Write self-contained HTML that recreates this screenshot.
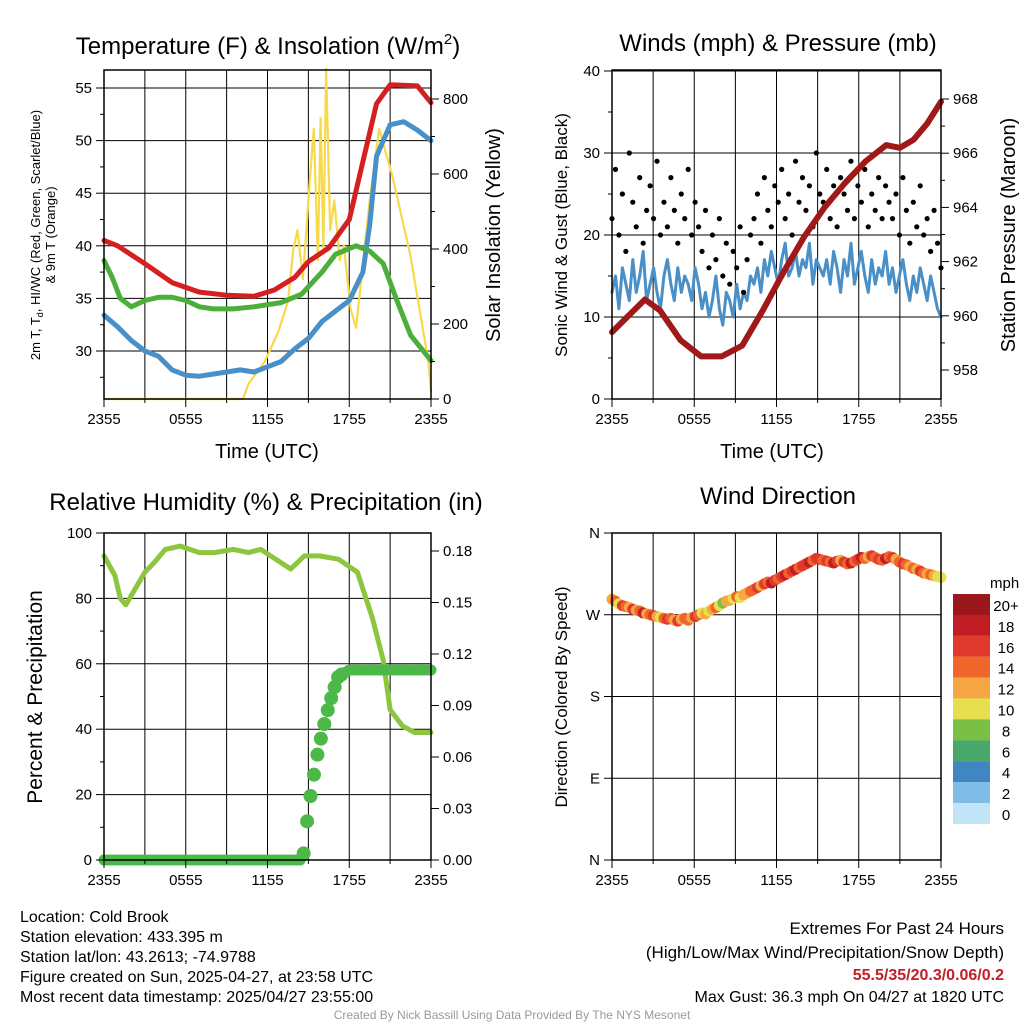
<!DOCTYPE html>
<html><head><meta charset="utf-8"><style>
body{margin:0;background:#fff}
svg{display:block;font-family:"Liberation Sans",Arial,sans-serif}
</style></head><body>
<svg id="c" width="1024" height="1024" viewBox="0 0 1024 1024">
<rect width="1024" height="1024" fill="#fff"/>
<g id="g"></g>
</svg>
<script>
// ---- Panel 1 data (hours since 2355 UTC) ----
const redT=[0,1,3,5,7,9,11,12.5,14,15,16.5,18,19,20,21,23,24];
const redV=[40.5,40.0,38.3,36.5,35.6,35.3,35.2,35.8,37.0,38.5,39.8,42.5,48.0,53.5,55.3,55.2,53.6];
const grnT=[0,0.6,1.2,2,3,4,5,6,7,8,9.5,11,13,14.5,16,17,18.5,19.5,20.5,21.5,22.5,24];
const grnV=[38.6,37.0,35.0,34.2,34.8,35.1,35.1,34.8,34.2,34.0,34.0,34.2,34.6,35.4,37.5,39.2,40.0,39.5,38.3,34.8,31.5,29.1];
const bluT=[0,1,2,3,4,5,6,7,8,9,10,11,12,13,14,15,16,17,18,19,19.5,20,21,22,23,24];
const bluV=[33.4,32.3,31.0,30.0,29.5,28.2,27.7,27.6,27.8,28.0,28.2,28.0,28.5,29.0,30.2,31.2,32.8,33.8,34.8,37.5,42.0,48.5,51.5,51.8,51.0,50.0];
const solT=[0,10.2,10.6,11.8,12.8,13.5,13.9,14.2,14.6,15.1,15.4,15.7,15.9,16.1,16.3,16.6,16.9,17.3,17.6,18.1,18.5,19.5,20.2,21.2,22.5,23.8,24];
const solV=[0,0,40,100,180,260,400,450,320,580,720,370,750,400,880,450,530,370,410,240,190,530,720,590,380,100,20];
// ---- Panel 2 data (15-min steps) ----
const windV=[13,15,11,16,14,12,17,13,15,18,12,14,16,13,11,15,17,14,12,16,13,15,14,12,16,
14,11,13,10,12,15,11,9,13,12,10,14,11,13,12,15,
14,16,13,17,15,18,16,14,17,19,15,16,18,15,17,16,19,14,17,16,
15,17,14,18,16,13,17,15,19,14,16,18,15,13,17,14,16,15,18,14,
16,13,15,17,14,12,15,13,16,14,12,15,13,11,10];
const gustV=[22,28,20,25,18,30,24,21,27,19,23,26,22,29,20,24,21,27,23,19,25,22,28,20,24,
21,18,23,16,20,17,22,15,19,14,18,16,21,13,17,20,
22,25,19,27,23,21,26,24,28,22,25,20,29,24,27,23,26,21,30,25,
24,28,22,26,21,27,25,23,29,22,26,24,28,21,25,23,27,22,26,24,
22,25,20,27,23,19,24,21,26,20,22,18,23,19,16];
const presT=[0,1,2.4,3.5,5,6.5,8,9.5,11,12.5,14,15.5,17,18.5,20,21,22,23,24];
const presV=[959.4,959.9,960.6,960.2,959.1,958.5,958.5,958.9,960.2,961.6,962.9,964.0,964.9,965.7,966.3,966.2,966.5,967.1,967.9];
// ---- Panel 3 data ----
const rhT=[0,0.8,1.2,1.6,2.3,3,3.7,4.5,5.6,7,8.1,9.5,10.6,11.5,12.6,13.7,14.7,15.8,17.2,18.6,19.7,20.5,21,21.9,22.8,24];
const rhV=[93,87,80,78,83,88,91,95,96,94,94,95,94,95,92,89,93,93,92,88,74,61,46,41,39,39];
const precT=[0,2,4,6,8,10,12,14.6,14.8,15.0,15.3,15.6,16.0,16.4,16.8,17.2,18,20,22,24];
const precV=[0,0,0,0,0,0,0,0,0.008,0.016,0.024,0.032,0.040,0.047,0.053,0.058,0.06,0.06,0.06,0.06];
// ---- Panel 4 data (15-min steps, degrees) ----
const dirV=[287,285,282,280,279,278,276,275,274,272,271,270,269,268,267,266,265,266,264,263,265,266,264,267,268,
270,272,271,274,276,278,280,283,285,286,288,290,289,292,294,296,
298,300,302,304,306,305,308,310,312,314,316,318,320,322,324,326,328,330,332,331,
330,329,328,327,329,330,328,326,327,329,331,333,332,334,335,333,331,330,332,334,
333,331,328,326,325,323,321,320,318,316,315,314,313,312,311];

const NS='http://www.w3.org/2000/svg';
const G=document.getElementById('g');
function el(tag,attrs,parent,text){const e=document.createElementNS(NS,tag);for(const k in attrs)e.setAttribute(k,attrs[k]);if(text!==undefined)e.textContent=text;(parent||G).appendChild(e);return e;}
function lin(d0,d1,r0,r1){return v=>r0+(v-d0)*(r1-r0)/(d1-d0);}
const stepT=i=>i*24/95;

function frame(name){
  const g=el('g',{});
  
  
  return g;
}
function grid(g,x0,x1,y0,y1,ys){
  for(let h=3;h<24;h+=3){const x=lin(0,24,x0,x1)(h);el('line',{x1:x,x2:x,y1:y0,y2:y1,stroke:'#000','stroke-width':1},g);}
  ys.forEach(y=>el('line',{x1:x0,x2:x1,y1:y,y2:y,stroke:'#000','stroke-width':1},g));
}
function border(g,x0,x1,y0,y1){el('rect',{x:x0,y:y0,width:x1-x0,height:y1-y0,fill:'none',stroke:'#000','stroke-width':1.5},g);}
function xticks(g,x0,x1,y1){
  const labs=['2355','0555','1155','1755','2355'];
  const sx=lin(0,24,x0,x1);
  for(let h=0;h<=24;h+=3){const x=sx(h);el('line',{x1:x,x2:x,y1:y1,y2:y1+(h%6==0?8:4),stroke:'#000'},g);}
  labs.forEach((l,i)=>{const t=el('text',{x:sx(i*6),y:y1+25,'text-anchor':'middle','font-size':15},g,l);
    });
}
function yticks(g,x,side,vals,sy,fmt,minor){
  const dir=side=='l'?-1:1;
  vals.forEach(v=>{const y=sy(v);el('line',{x1:x,x2:x+dir*8,y1:y,y2:y,stroke:'#000'},g);
    const t=el('text',{x:x+dir*12,y:y+5,'text-anchor':side=='l'?'end':'start','font-size':15},g,fmt(v));
    });
  (minor||[]).forEach(v=>{const y=sy(v);el('line',{x1:x,x2:x+dir*4,y1:y,y2:y,stroke:'#000'},g);});
}
function path(g,ts,vs,sx,sy,color,w,name){
  const d=ts.map((t,i)=>(i?'L':'M')+sx(t).toFixed(1)+','+sy(vs[i]).toFixed(1)).join('');
  const p=el('path',{d:d,fill:'none',stroke:color,'stroke-width':w,'stroke-linejoin':'round','stroke-linecap':'round'},g);
  return p;
}
function txt(g,x,y,s,size,name,extra){const t=el('text',Object.assign({x:x,y:y,'font-size':size},extra||{}),g,s);
  return t;}

// ===== Panel 1 =====
(function(){
  const x0=104,x1=431,y0=70,y1=399;
  const g=frame('temperature-panel');
  const sx=lin(0,24,x0,x1), sy=lin(30,55,351,88), sr=lin(0,800,399,99);
  grid(g,x0,x1,y0,y1,[30,35,40,45,50,55].map(sy));
  path(g,solT,solV,sx,sr,'#f7d94c',2.2,'solar-insolation-line');
  path(g,bluT,bluV,sx,sy,'#4a90c8',5,'wind-chill-line');
  path(g,grnT,grnV,sx,sy,'#4caf3c',5,'dewpoint-line');
  path(g,redT,redV,sx,sy,'#d42020',5,'temperature-line');
  border(g,x0,x1,y0,y1);
  xticks(g,x0,x1,y1);
  yticks(g,x0,'l',[30,35,40,45,50,55],sy,v=>v,[27.5,32.5,37.5,42.5,47.5,52.5]);
  yticks(g,x1,'r',[0,200,400,600,800],sr,v=>v,[100,300,500,700]);
  const t=txt(g,268,54,'Temperature (F) & Insolation (W/m',24,'chart-title-temperature',{'text-anchor':'middle'});
  el('tspan',{dy:-10,'font-size':15},t,'2');el('tspan',{dy:10},t,')');
  txt(g,267,458,'Time (UTC)',20,'x-axis-title',{'text-anchor':'middle'});
  const a=txt(g,0,0,'',13,'y-axis-title-left',{'text-anchor':'middle',transform:'translate(40,235) rotate(-90)'});
  el('tspan',{x:0,dy:0},a,'2m T, T');el('tspan',{'font-size':9,dy:3},a,'d');el('tspan',{dy:-3},a,', HI/WC (Red, Green, Scarlet/Blue)');
  el('tspan',{x:0,dy:15},a,'& 9m T (Orange)');
  txt(g,0,0,'Solar Insolation (Yellow)',20,'y-axis-title-right',{'text-anchor':'middle',transform:'translate(500,235) rotate(-90)'});
})();

// ===== Panel 2 =====
(function(){
  const x0=612,x1=941,y0=70,y1=399;
  const g=frame('winds-panel');
  const sx=lin(0,24,x0,x1), sy=lin(0,40,399,71), sp=lin(958,968,370,99);
  grid(g,x0,x1,y0,y1,[10,20,30,40].map(sy));
  path(g,windV.map((v,i)=>stepT(i)),windV,sx,sy,'#4a90c8',3,'sonic-wind-line');
  gustV.forEach((v,i)=>{const c=el('circle',{cx:sx(stepT(i)),cy:sy(v),r:2.6,fill:'#000'},g);
    });
  path(g,presT,presV,sx,sp,'#a01818',6,'pressure-line');
  border(g,x0,x1,y0,y1);
  xticks(g,x0,x1,y1);
  yticks(g,x0,'l',[0,10,20,30,40],sy,v=>v,[5,15,25,35]);
  yticks(g,x1,'r',[958,960,962,964,966,968],sp,v=>v,[959,961,963,965,967]);
  txt(g,778,51,'Winds (mph) & Pressure (mb)',24,'chart-title-winds',{'text-anchor':'middle'});
  txt(g,772,458,'Time (UTC)',20,'x-axis-title',{'text-anchor':'middle'});
  txt(g,0,0,'Sonic Wind & Gust (Blue, Black)',17,'y-axis-title-left',{'text-anchor':'middle',transform:'translate(567,235) rotate(-90)'});
  txt(g,0,0,'Station Pressure (Maroon)',20,'y-axis-title-right',{'text-anchor':'middle',transform:'translate(1015,235) rotate(-90)'});
})();

// ===== Panel 3 =====
(function(){
  const x0=104,x1=431,y0=533,y1=860;
  const g=frame('humidity-panel');
  const sx=lin(0,24,x0,x1), sy=lin(0,100,860,533), sr=lin(0,0.18,860,551), spr=lin(0,0.06,860,670);
  grid(g,x0,x1,y0,y1,[20,40,60,80].map(sy));
  path(g,rhT,rhV,sx,sy,'#8cc63f',5,'humidity-line');
  for(let i=0;i<96;i++){const t=stepT(i);let v=0;
    for(let k=0;k<precT.length-1;k++)if(t>=precT[k]&&t<=precT[k+1]){v=precV[k]+(precV[k+1]-precV[k])*(t-precT[k])/(precT[k+1]-precT[k]);}
    const c=el('circle',{cx:sx(t),cy:spr(v),r:v>0.001&&v<0.059?7:5.5,fill:'#4cb848'},g);
    }
  border(g,x0,x1,y0,y1);
  xticks(g,x0,x1,y1);
  yticks(g,x0,'l',[0,20,40,60,80,100],sy,v=>v,[10,30,50,70,90]);
  yticks(g,x1,'r',[0,0.03,0.06,0.09,0.12,0.15,0.18],sr,v=>v.toFixed(2));
  txt(g,266,510,'Relative Humidity (%) & Precipitation (in)',24,'chart-title-humidity',{'text-anchor':'middle'});
  txt(g,0,0,'Percent & Precipitation',21,'y-axis-title-left',{'text-anchor':'middle',transform:'translate(42,697) rotate(-90)'});
})();

// ===== Panel 4 =====
(function(){
  const x0=612,x1=941,y0=533,y1=860;
  const g=frame('wind-direction-panel');
  const sx=lin(0,24,x0,x1), sy=lin(0,360,860,533);
  grid(g,x0,x1,y0,y1,[90,180,270].map(sy));
  const cols=['#c2e4f7','#80bde6','#3f86c2','#48a86a','#7bbf44','#e6e050','#f6a743','#f0652a','#e03a2f','#c01d25','#9a171c'];
  const col=v=>cols[Math.min(10,Math.max(0,Math.floor(v/2)))];
  dirV.forEach((v,i)=>{const c=el('circle',{cx:sx(stepT(i)),cy:sy(v),r:5.5,fill:col(windV[i])},g);
    });
  border(g,x0,x1,y0,y1);
  xticks(g,x0,x1,y1);
  yticks(g,x0,'l',[0,90,180,270,360],sy,v=>({0:'N',90:'E',180:'S',270:'W',360:'N'})[v]);
  txt(g,778,504,'Wind Direction',24,'chart-title-direction',{'text-anchor':'middle'});
  txt(g,0,0,'Direction (Colored By Speed)',17,'y-axis-title-left',{'text-anchor':'middle',transform:'translate(567,697) rotate(-90)'});
  const lg=el('g',{},g);
  txt(lg,990,588,'mph',15,'legend-title');
  const labs=['20+','18','16','14','12','10','8','6','4','2','0'];
  labs.forEach((l,i)=>{const y=594+i*20.9;
    const r=el('rect',{x:953,y:y,width:37,height:21,fill:cols[10-i]},lg);
    
    txt(lg,1006,y+17,l,15,'legend-label',{'text-anchor':'middle'});});
})();

// ===== Footer =====
(function(){
  const g=frame('footer-info');
  const L=['Location: Cold Brook','Station elevation: 433.395 m','Station lat/lon: 43.2613; -74.9788','Figure created on Sun, 2025-04-27, at 23:58 UTC','Most recent data timestamp: 2025/04/27 23:55:00'];
  L.forEach((s,i)=>txt(g,20,922+i*20,s,16,'station-info-line'));
  txt(g,1004,934,'Extremes For Past 24 Hours',17,'extremes-title',{'text-anchor':'end'});
  txt(g,1004,958,'(High/Low/Max Wind/Precipitation/Snow Depth)',17,'extremes-subtitle',{'text-anchor':'end'});
  txt(g,1004,980,'55.5/35/20.3/0.06/0.2',16,'extremes-values',{'text-anchor':'end',fill:'#c0202a','font-weight':'bold'});
  txt(g,1004,1002,'Max Gust: 36.3 mph On 04/27 at 1820 UTC',16,'max-gust',{'text-anchor':'end'});
  txt(g,512,1019,'Created By Nick Bassill Using Data Provided By The NYS Mesonet',12,'credit',{'text-anchor':'middle',fill:'#999'});
})();
</script>
</body></html>
